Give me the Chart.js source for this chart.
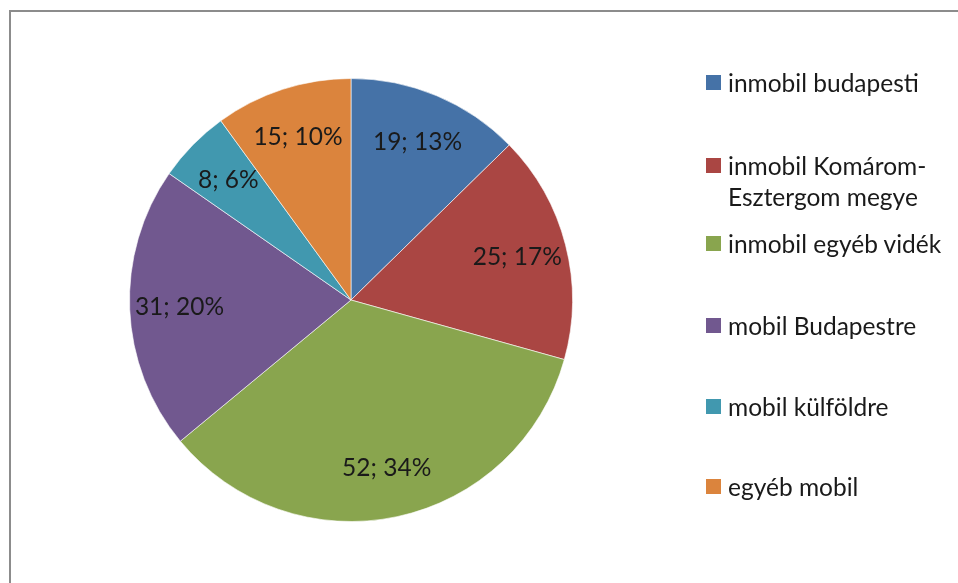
<!DOCTYPE html>
<html>
<head>
<meta charset="utf-8">
<script src="https://cdn.jsdelivr.net/npm/chart.js@4/dist/chart.umd.min.js"></script>
<style>
  html, body { margin: 0; padding: 0; background: #fff; }
  #wrap { position: relative; width: 958px; height: 583px; overflow: hidden; }
  #frame { position: absolute; left: 9px; top: 10px; width: 960px; height: 600px;
           border-top: 2px solid #8c8c8c; border-left: 2px solid #8c8c8c; box-sizing: border-box; }
  canvas { position: absolute; left: 0; top: 0; }
  #legend { position: absolute; left: 706px; top: 0; font-family: Lato, "Noto Sans", sans-serif;
            font-size: 24.5px; color: #1a1a1a; }
  .item { position: absolute; left: 0; white-space: nowrap; display: flex; align-items: flex-start; }
  .sw { width: 15px; height: 15px; margin-right: 7px; flex: none; }
  .txt { line-height: 31px; }
</style>
</head>
<body>
<div id="wrap">
  <div id="frame"></div>
  <canvas id="c" width="958" height="583"></canvas>
  <div id="legend"></div>
</div>
<script>
const categories = [
  "inmobil budapesti",
  "inmobil Komárom-\nEsztergom megye",
  "inmobil egyéb vidék",
  "mobil Budapestre",
  "mobil külföldre",
  "egyéb mobil"
];
const values = [19, 25, 52, 31, 8, 15];
const percentLabels = ["13%", "17%", "34%", "20%", "6%", "10%"];
const colors = ["#4572A7", "#AA4643", "#89A54E", "#71588F", "#4198AF", "#DB843D"];

// legend (first-line center y for each entry)
const legendCenters = [82, 165, 243, 325, 406, 486];
const legend = document.getElementById('legend');
categories.forEach((name, i) => {
  const item = document.createElement('div');
  item.className = 'item';
  item.style.top = (legendCenters[i] - 15.5) + 'px';
  const sw = document.createElement('div');
  sw.className = 'sw';
  sw.style.background = colors[i];
  sw.style.marginTop = '8px';
  const txt = document.createElement('div');
  txt.className = 'txt';
  txt.innerHTML = name.split('\n').join('<br>');
  item.appendChild(sw);
  item.appendChild(txt);
  legend.appendChild(item);
});

const labelPlugin = {
  id: 'sliceLabels',
  afterDatasetsDraw(chart) {
    const ctx = chart.ctx;
    const meta = chart.getDatasetMeta(0);
    ctx.save();
    ctx.font = '24.5px Lato, "Noto Sans", sans-serif';
    ctx.fillStyle = '#1a1a1a';
    ctx.textAlign = 'center';
    ctx.textBaseline = 'middle';
    meta.data.forEach((arc, i) => {
      const p = arc.getProps(['x', 'y', 'startAngle', 'endAngle', 'outerRadius'], true);
      const mid = (p.startAngle + p.endAngle) / 2;
      const r = p.outerRadius * 0.775;
      ctx.fillText(values[i] + '; ' + percentLabels[i], p.x + Math.cos(mid) * r, p.y + Math.sin(mid) * r);
    });
    ctx.restore();
  }
};

new Chart(document.getElementById('c'), {
  type: 'pie',
  data: {
    labels: categories,
    datasets: [{
      data: values,
      backgroundColor: colors,
      borderColor: 'rgba(255,255,255,0.6)',
      borderWidth: 1
    }]
  },
  options: {
    responsive: false,
    animation: false,
    layout: { padding: { left: 129, right: 385, top: 78, bottom: 61 } },
    plugins: { legend: { display: false }, tooltip: { enabled: false } }
  },
  plugins: [labelPlugin]
});
</script>
</body>
</html>
